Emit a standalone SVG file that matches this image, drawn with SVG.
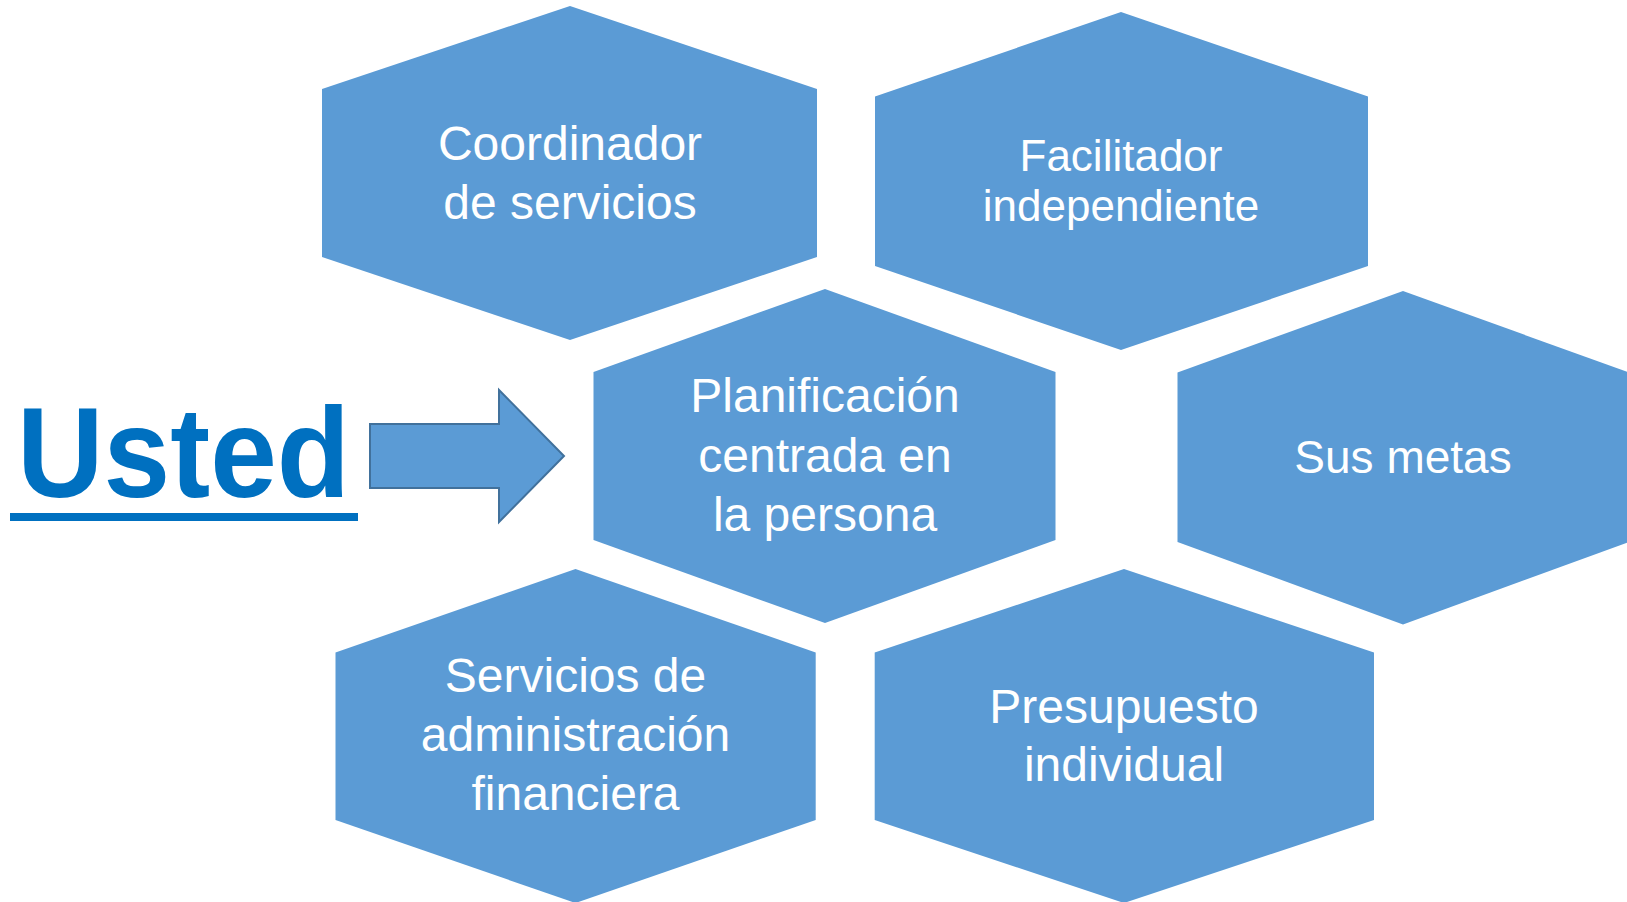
<svg xmlns="http://www.w3.org/2000/svg" width="1627" height="902" viewBox="0 0 1627 902">
<style>
.hex{fill:#5B9BD5;stroke:none}
.lbl{fill:#FFFFFF;font-family:"Liberation Sans",Arial,sans-serif;font-size:48px;text-anchor:middle}
.usted{fill:#0070C0;font-family:"Liberation Sans",Arial,sans-serif;font-weight:bold;font-size:128px}
.arrow{fill:#5B9BD5;stroke:#41719C;stroke-width:2}
</style>
<rect width="1627" height="902" fill="#FFFFFF"/>
<g id="usted">
<text class="usted" x="17" y="497" textLength="333" lengthAdjust="spacingAndGlyphs">Usted</text>
<rect x="10" y="513" width="348" height="8" fill="#0070C0"/>
</g>
<g id="connectors">
<polygon class="arrow" points="370,424 499,424 499,390 564,456 499,522 499,488 370,488"/>
</g>
<g id="coordinador">
<polygon class="hex" points="570,6 817,89 817,257 570,340 322,257 322,89"/>
<text class="lbl" x="570" y="159.5">Coordinador</text>
<text class="lbl" x="570" y="218.5">de servicios</text>
</g>
<g id="facilitador">
<polygon class="hex" points="1121,12 1368,96.5 1368,266 1121,350 875,266 875,96.5"/>
<text class="lbl" x="1121" y="170.5" style="font-size:44px">Facilitador</text>
<text class="lbl" x="1121" y="221" style="font-size:44px">independiente</text>
</g>
<g id="planificacion">
<polygon class="hex" points="825,289 1055.5,372 1055.5,540 825,623 593.5,540 593.5,372"/>
<text class="lbl" x="825" y="412">Planificación</text>
<text class="lbl" x="825" y="471.5">centrada en</text>
<text class="lbl" x="825" y="530.5">la persona</text>
</g>
<g id="metas">
<polygon class="hex" points="1403,291 1629,372.5 1629,542 1403,624.5 1177.5,542 1177.5,372.5"/>
<text class="lbl" x="1403" y="472.5" style="font-size:46px">Sus metas</text>
</g>
<g id="servicios">
<polygon class="hex" points="575.5,569 815.7,652.5 815.7,820 575.5,903 335.5,820 335.5,652.5"/>
<text class="lbl" x="575.5" y="692">Servicios de</text>
<text class="lbl" x="575.5" y="751">administración</text>
<text class="lbl" x="575.5" y="809.5">financiera</text>
</g>
<g id="presupuesto">
<polygon class="hex" points="1124,569 1374,652.5 1374,820 1124,903 874.7,820 874.7,652.5"/>
<text class="lbl" x="1124" y="722.5">Presupuesto</text>
<text class="lbl" x="1124" y="780.5">individual</text>
</g>
</svg>
